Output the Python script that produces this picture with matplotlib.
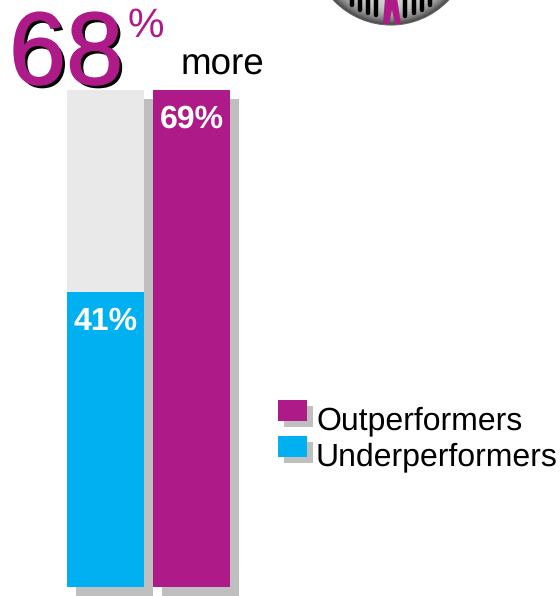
import matplotlib
matplotlib.use('Agg')
import matplotlib.pyplot as plt
import matplotlib.patheffects as pe
import numpy as np
from matplotlib.patches import Circle, Polygon, Rectangle

plt.rcParams['font.family'] = ['Liberation Sans', 'DejaVu Sans']
plt.rcParams['text.hinting'] = 'none'

W, H = 560, 596
PURPLE = '#ae1a87'
CYAN = '#00b0f0'
SHADOW = '#bfbfbf'
TRACK = '#e9e9e9'

categories = ['Underperformers', 'Outperformers']
values = [41, 69]
colors = [CYAN, PURPLE]
headline = '68'
headline_unit = '%'
headline_word = 'more'
grill_bars = [-39.5, -31, -23.5, -15.5, 14, 22.5, 30.5, 39]


def bar_shadow(dx, dy):
    return [pe.SimplePatchShadow(offset=(dx * 0.72, -dy * 0.72), shadow_rgbFace=SHADOW, alpha=1), pe.Normal()]


def draw_grill(ax, cx, cy, r):
    # round steel badge, mostly cut off by the top of the figure
    yy, xx = np.mgrid[-1:1:300j, -1:1:300j]
    shade = 0.85 - 0.6 * np.clip(np.hypot(xx, yy), 0, 1) ** 8
    im = ax.imshow(shade, cmap='gray', vmin=0, vmax=1, zorder=2, aspect='auto',
                   extent=(cx - r, cx + r, cy + r, cy - r))
    im.set_clip_path(Circle((cx, cy), r, transform=ax.transData))
    ax.add_patch(Circle((cx, cy), r, fc='none', ec='#666666', lw=0.8, zorder=3))
    for bx in grill_bars:
        bottom = cy + np.sqrt((r - 8) ** 2 - bx ** 2)
        ax.plot([cx + bx, cx + bx], [-3, bottom], color='black', lw=3.2,
                solid_capstyle='round', zorder=3)
    # legs of the figure standing in the grill
    ax.add_patch(Polygon([(cx - 6, -2), (cx + 6, -2), (cx + 10, 24), (cx + 4, 24), (cx + 1, 10),
                          (cx - 2, 24), (cx - 8, 24)], fc=PURPLE, zorder=4))


fig = plt.figure(figsize=(W / 100, H / 100), dpi=100)

# bars: the axes box spans exactly 0..69 in y
ax = fig.add_axes([67 / W, (H - 587) / H, 163 / W, 497 / H])
ax.set_xlim(-38.5 / 86, 1 + 38.5 / 86)
ax.set_ylim(0, max(values))
ax.axis('off')
x = np.arange(len(values))
back_bars = ax.bar(x, [max(values)] * 2, width=77 / 86, color=[TRACK, PURPLE], clip_on=False, zorder=2)
for b in back_bars:
    b.set_path_effects(bar_shadow(9, 9))
ax.bar(x, values, width=77 / 86, color=colors, clip_on=False, zorder=3)
for i, v in enumerate(values):
    ax.annotate(f'{v}%', (i, v), xytext=(0, -27.4), textcoords='offset points', ha='center',
                color='white', fontsize=23, fontweight='bold', zorder=4)

# overlay in pixel coordinates for the headline, legend and badge
ov = fig.add_axes([0, 0, 1, 1], facecolor='none')
ov.axis('off')

ov.text(9, 84, headline, fontsize=74, color=PURPLE, va='baseline', zorder=6,
        path_effects=[pe.SimplePatchShadow(offset=(2.4, -2.4), shadow_rgbFace='black', alpha=1),
                      pe.Stroke(linewidth=1.2, foreground=PURPLE), pe.Normal()])
ov.text(127.5, 37, headline_unit, fontsize=29.5, color=PURPLE, va='baseline', zorder=6)
ov.text(181, 75, headline_word, fontsize=26.5, color='black', va='baseline', zorder=6)

for name, top, base in [('Outperformers', 400, 429), ('Underperformers', 436, 465)]:
    c = colors[categories.index(name)]
    ov.add_patch(Rectangle((284, top + 6), 29, 21, fc=SHADOW, zorder=5))
    ov.add_patch(Rectangle((278, top), 29, 21, fc=c, zorder=6))
    ov.text(316, base, name, fontsize=23, color='black', va='baseline', zorder=6)

draw_grill(ov, 391, -54, 79)
ov.set_xlim(0, W)
ov.set_ylim(H, 0)

fig.savefig('out.png', dpi=100)
